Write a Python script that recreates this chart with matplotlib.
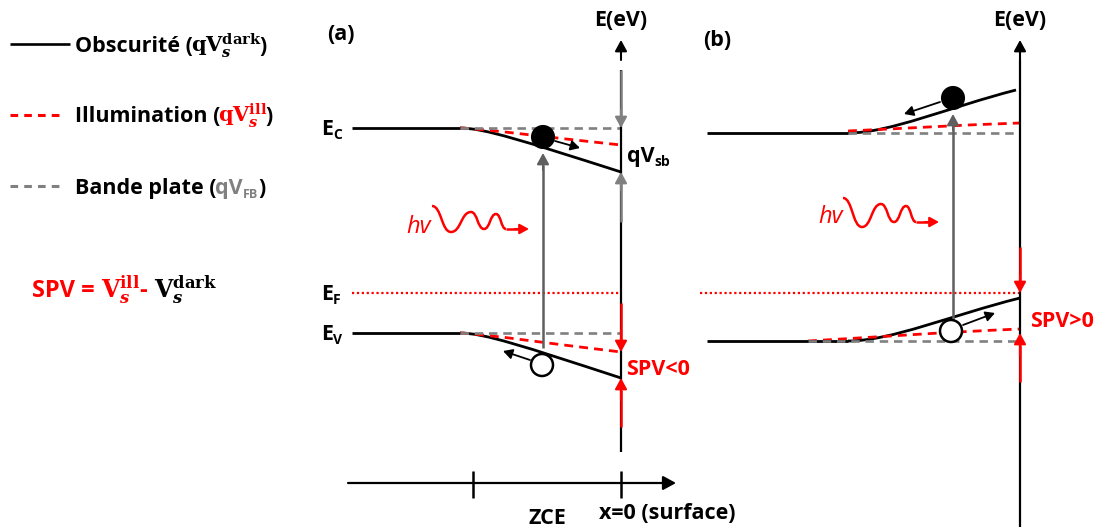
import matplotlib
matplotlib.use('Agg')
import matplotlib.pyplot as plt
from matplotlib.path import Path
from matplotlib.patches import PathPatch, Circle

# ---------------- schematic values (pixel space of the drawing) ----------------
W, H = 1104, 527
RED, GRAY, DGRAY, BLACK = '#ff0000', '#808080', '#5f5f5f', '#000000'

# Panel (a): depletion (bands bend down toward surface), SPV < 0
a_bulk_x, a_bend_x, a_surf_x = 352, 460, 621
a_Ec_dark = [128, 172]        # bulk level, surface level (dark)
a_Ec_ill = [128, 145]         # bulk, surface (illuminated)
a_Ev_dark = [333, 378]
a_Ev_ill = [333, 352]
a_Ef = 293
a_electron = (543, 137)
a_hole = (542, 365)

# Panel (b): accumulation (bands bend up toward surface), SPV > 0
b_bulk_x, b_bend_x, b_surf_x = 707, 848, 1020
b_Ec_dark = [133, 90]
b_Ec_ill = [131, 123]
b_Ev_dark = [341, 298]
b_Ev_ill = [340, 329]
b_Ef = 293
b_electron = (953, 98)
b_hole = (951, 331)

legend_labels = ['Obscurité (', 'Illumination (', 'Bande plate (']
axis_labels = ['ZCE', 'x=0 (surface)']

plt.rcParams['font.family'] = ['Open Sans', 'DejaVu Sans']
plt.rcParams['mathtext.fontset'] = 'dejavuserif'

fig = plt.figure(figsize=(W / 100, H / 100), dpi=100)
ax = fig.add_axes([0, 0, 1, 1])
ax.set_xlim(0, W)
ax.set_ylim(H, 0)
ax.axis('off')
R = fig.canvas.get_renderer()

FS = 15.5


def chain(x, y, pieces, **common):
    for s, kw in pieces:
        p = dict(weight='bold', fontsize=FS, color=BLACK)
        p.update(common)
        p.update(kw)
        dy = p.pop('dy', 0)
        gap = p.pop('gap', 0)
        t = ax.text(x, y + dy, s, va='baseline', ha='left', **p)
        x += t.get_window_extent(R).width + gap
    return x


def arrow(tail, tip, color=BLACK, lw=1.5, ms=12):
    ax.annotate('', xy=tip, xytext=tail,
                arrowprops=dict(arrowstyle='-|>,head_length=0.55,head_width=0.3',
                                color=color, lw=lw, mutation_scale=ms,
                                shrinkA=0, shrinkB=0))


def line(xs, ys, color=BLACK, lw=1.8, ls='-'):
    ax.plot(xs, ys, color=color, lw=lw, ls=ls, solid_capstyle='butt',
            dash_capstyle='butt')


def bend(x0, y0, x1, y1, c1, c2, color=BLACK, lw=2.0, ls='-'):
    verts = [(x0, y0), (x0 + c1[0] * (x1 - x0), y0 + c1[1] * (y1 - y0)),
             (x0 + c2[0] * (x1 - x0), y0 + c2[1] * (y1 - y0)), (x1, y1)]
    p = Path(verts, [Path.MOVETO, Path.CURVE4, Path.CURVE4, Path.CURVE4])
    ax.add_patch(PathPatch(p, fill=False, ec=color, lw=lw, ls=ls))


def wave(pts, color=RED, lw=1.8):
    verts = [pts[0]]
    codes = [Path.MOVETO]
    for (xa, ya), (xb, yb) in zip(pts[:-1], pts[1:]):
        dx = xb - xa
        verts += [(xa + dx * 0.5, ya), (xb - dx * 0.5, yb), (xb, yb)]
        codes += [Path.CURVE4] * 3
    ax.add_patch(PathPatch(Path(verts, codes), fill=False, ec=color, lw=lw))


GDASH = (0, (3.2, 2.2))
RDASH = (0, (3.2, 2.2))

# ---------------- legend (left) ----------------
line([10, 70], [44, 44], lw=1.9)
chain(75, 52, [(legend_labels[0], dict(gap=-2)),
               (r'$\mathbf{qV}_{\boldsymbol{s}}^{\mathbf{dark}}$', dict(fontsize=15, gap=-2)),
               (')', {})])
line([10, 64], [115, 115], color=RED, lw=2.2, ls=(0, (2.5, 2.0)))
chain(75, 122, [(legend_labels[1], dict(gap=-2)),
                (r'$\mathbf{qV}_{\boldsymbol{s}}^{\mathbf{ill}}$', dict(fontsize=15, color=RED, gap=-2)),
                (')', {})])
line([10, 64], [186, 186], color=GRAY, lw=2.2, ls=(0, (2.5, 2.0)))
chain(75, 194, [(legend_labels[2], dict(gap=-1)), ('qV', dict(color=GRAY)),
                ('FB', dict(color=GRAY, fontsize=9, dy=4)), (')', {})])
chain(32, 297, [('SPV = ', dict(color=RED, fontsize=17)),
                (r'$\mathbf{V}_{\boldsymbol{s}}^{\mathbf{ill}}$', dict(color=RED, fontsize=17)),
                ('- ', dict(color=RED, fontsize=17)),
                (r'$\mathbf{V}_{\boldsymbol{s}}^{\mathbf{dark}}$', dict(fontsize=17))])

# ---------------- panel (a) ----------------
ax.text(327, 40, '(a)', weight='bold', fontsize=FS, va='baseline')
ax.text(a_surf_x, 26, 'E(eV)', weight='bold', fontsize=FS, va='baseline', ha='center')
chain(321, 135, [('E', {}), ('C', dict(fontsize=10, dy=4))])
chain(321, 300, [('E', {}), ('F', dict(fontsize=10, dy=4))])
chain(321, 340, [('E', {}), ('V', dict(fontsize=10, dy=4))])

# bands
line([a_bulk_x, a_bend_x], [a_Ec_dark[0]] * 2, lw=2.0)
bend(a_bend_x, a_Ec_dark[0], a_surf_x, a_Ec_dark[1], (0.15, 0.0), (0.4, 0.3))
line([a_bend_x, a_surf_x], [a_Ec_ill[0]] * 2, color=GRAY, lw=1.9, ls=GDASH)
bend(a_bend_x, a_Ec_ill[0], a_surf_x, a_Ec_ill[1], (0.2, 0.1), (0.5, 0.5), color=RED, lw=2.0, ls=RDASH)

line([a_bulk_x, a_bend_x], [a_Ev_dark[0]] * 2, lw=2.0)
bend(a_bend_x, a_Ev_dark[0], a_surf_x, a_Ev_dark[1], (0.15, 0.0), (0.4, 0.3))
line([a_bend_x, a_surf_x], [a_Ev_ill[0]] * 2, color=GRAY, lw=1.9, ls=GDASH)
bend(a_bend_x, a_Ev_ill[0], a_surf_x, a_Ev_ill[1], (0.2, 0.1), (0.5, 0.5), color=RED, lw=2.0, ls=RDASH)

line([a_bulk_x, a_surf_x], [a_Ef] * 2, color=RED, lw=1.6, ls=(0, (1, 1.2)))

# surface energy axis (a)
line([a_surf_x] * 2, [70, 452], lw=1.6)
arrow((a_surf_x, 60), (a_surf_x, 40))
line([a_surf_x] * 2, [70, 120], color=GRAY, lw=1.8)
arrow((a_surf_x, 110), (a_surf_x, a_Ec_dark[0]), color=GRAY)
line([a_surf_x] * 2, [180, 222], color=GRAY, lw=1.8)
arrow((a_surf_x, 190), (a_surf_x, a_Ec_dark[1]), color=GRAY)
line([a_surf_x] * 2, [303, 340], color=RED, lw=1.8)
arrow((a_surf_x, 330), (a_surf_x, a_Ev_ill[1]), color=RED)
line([a_surf_x] * 2, [390, 427], color=RED, lw=1.8)
arrow((a_surf_x, 400), (a_surf_x, a_Ev_dark[1]), color=RED)
chain(627, 162, [('qV', {}), ('sb', dict(fontsize=10, dy=4))])
ax.text(626, 375, 'SPV<0', color=RED, weight='bold', fontsize=FS, va='baseline')

# excitation (a)
line([a_electron[0]] * 2, [348, 165], color=DGRAY, lw=1.8)
arrow((a_electron[0], 170), (a_electron[0], 153), color=DGRAY)
ax.add_patch(Circle(a_electron, 11, fc=BLACK, ec=BLACK, lw=1.5, zorder=5))
ax.add_patch(Circle(a_hole, 11, fc='white', ec=BLACK, lw=1.8, zorder=5))
arrow((555, 141), (580, 148), lw=1.3, ms=10)
arrow((530, 360), (503, 351), lw=1.3, ms=10)

ax.text(431, 233, 'hv', color=RED, style='italic', fontsize=17, va='baseline', ha='right')
wave([(432, 206), (451, 232), (471, 212), (484, 229), (496, 214), (506, 229)])
line([506, 518], [229, 229], color=RED, lw=1.8)
arrow((515, 229), (529, 229), color=RED, lw=1.5, ms=10)

# bottom position axis
arrow((348, 483), (676, 483), lw=1.6, ms=14)
line([473, 473], [471, 498], lw=1.8)
line([a_surf_x] * 2, [471, 498], lw=1.8)
ax.text(547, 524, axis_labels[0], weight='bold', fontsize=FS, va='baseline', ha='center')
ax.text(599, 519, axis_labels[1], weight='bold', fontsize=FS, va='baseline', ha='left')

# ---------------- panel (b) ----------------
ax.text(703, 46, '(b)', weight='bold', fontsize=FS, va='baseline')
ax.text(b_surf_x, 26, 'E(eV)', weight='bold', fontsize=FS, va='baseline', ha='center')

line([b_bulk_x, b_bend_x], [b_Ec_dark[0]] * 2, lw=2.0)
bend(b_bend_x, b_Ec_dark[0], b_surf_x - 4, b_Ec_dark[1], (0.25, 0.0), (0.6, 0.6))
line([b_bend_x, b_surf_x], [b_Ec_dark[0]] * 2, color=GRAY, lw=1.9, ls=GDASH)
bend(b_bend_x, b_Ec_ill[0], b_surf_x, b_Ec_ill[1], (0.3, 0.3), (0.6, 0.7), color=RED, lw=2.0, ls=RDASH)

line([b_bulk_x, b_bend_x], [b_Ev_dark[0]] * 2, lw=2.0)
bend(b_bend_x, b_Ev_dark[0], b_surf_x, b_Ev_dark[1], (0.25, 0.0), (0.6, 0.6))
line([b_bend_x - 40, b_surf_x], [b_Ev_dark[0]] * 2, color=GRAY, lw=1.9, ls=GDASH)
bend(b_bend_x - 40, b_Ev_ill[0] + 1, b_surf_x, b_Ev_ill[1], (0.3, 0.3), (0.6, 0.7), color=RED, lw=2.0, ls=RDASH)

line([700, b_surf_x], [b_Ef] * 2, color=RED, lw=1.6, ls=(0, (1, 1.2)))

line([b_surf_x] * 2, [60, 527], lw=1.6)
arrow((b_surf_x, 60), (b_surf_x, 40))
line([b_surf_x] * 2, [247, 285], color=RED, lw=1.8)
arrow((b_surf_x, 275), (b_surf_x, b_Ef), color=RED)
line([b_surf_x] * 2, [345, 382], color=RED, lw=1.8)
arrow((b_surf_x, 355), (b_surf_x, b_Ev_ill[1] + 4), color=RED)
ax.text(1030, 327, 'SPV>0', color=RED, weight='bold', fontsize=FS, va='baseline')

line([b_electron[0]] * 2, [320, 125], color=DGRAY, lw=1.8)
arrow((b_electron[0], 130), (b_electron[0], 114), color=DGRAY)
ax.add_patch(Circle(b_electron, 11, fc=BLACK, ec=BLACK, lw=1.5, zorder=5))
ax.add_patch(Circle(b_hole, 11, fc='white', ec=BLACK, lw=1.8, zorder=5))
arrow((940, 102), (904, 114), lw=1.3, ms=10)
arrow((963, 325), (995, 313), lw=1.3, ms=10)

ax.text(843, 223, 'hv', color=RED, style='italic', fontsize=17, va='baseline', ha='right')
wave([(843, 198), (862, 227), (881, 204), (894, 222), (906, 206), (916, 222)])
line([916, 928], [222, 222], color=RED, lw=1.8)
arrow((925, 222), (939, 222), color=RED, lw=1.5, ms=10)

fig.savefig('out.png', dpi=100)
